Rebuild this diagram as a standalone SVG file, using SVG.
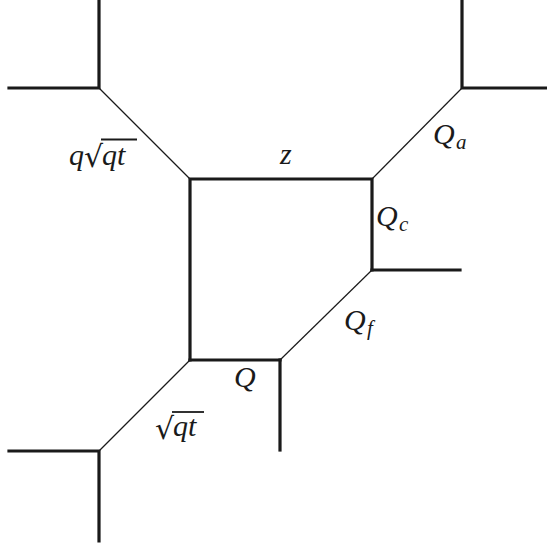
<svg xmlns="http://www.w3.org/2000/svg" width="547" height="547" viewBox="0 0 547 547">
<style>
.thick{stroke:#1a1a1a;stroke-width:3.2;fill:none;stroke-linecap:square}
.thin{stroke:#1a1a1a;stroke-width:1.2;fill:none}
.lbl{font-family:"Liberation Serif",serif;font-style:italic;font-size:30px;fill:#1a1a1a}
.sub{font-family:"Liberation Serif",serif;font-style:italic;font-size:21px;fill:#1a1a1a}
.rad{font-family:"DejaVu Serif",serif;font-size:30px;fill:#1a1a1a}
</style>
<rect width="547" height="547" fill="#fff"/>
<g id="connectors">
<path class="thin" d="M99,88 L190,179"/>
<path class="thin" d="M372,179 L462,88"/>
<path class="thin" d="M372,270 L280,360"/>
<path class="thin" d="M190,360 L99,451"/>
</g>
<g id="node-top-left">
<path class="thick" d="M99,0 L99,88 L9,88"/>
</g>
<g id="node-top-right">
<path class="thick" d="M462,0 L462,88 L547,88"/>
</g>
<g id="node-square">
<path class="thick" d="M190,360 L190,179 L372,179 L372,270"/>
<path class="thick" d="M190,360 L280,360"/>
</g>
<g id="node-right">
<path class="thick" d="M372,270 L460,270"/>
</g>
<g id="node-bottom">
<path class="thick" d="M280,360 L280,450"/>
</g>
<g id="node-bottom-left">
<path class="thick" d="M99,541 L99,451 L9,451"/>
</g>
<g id="labels">
<text class="lbl" x="69" y="165">q</text>
<text class="rad" x="84" y="167">√</text>
<line x1="101" y1="139.5" x2="137" y2="139.5" stroke="#1a1a1a" stroke-width="1.8"/>
<text class="lbl" x="102" y="165">qt</text>
<text class="lbl" x="280" y="164">z</text>
<text class="lbl" x="376" y="226">Q</text>
<text class="sub" x="399" y="231">c</text>
<text class="lbl" x="433" y="144">Q</text>
<text class="sub" x="456" y="149">a</text>
<text class="lbl" x="344" y="330">Q</text>
<text class="sub" x="367" y="335">f</text>
<text class="lbl" x="234" y="387">Q</text>
<text class="rad" x="155" y="439">√</text>
<line x1="172" y1="412" x2="204" y2="412" stroke="#1a1a1a" stroke-width="1.8"/>
<text class="lbl" x="173" y="436">qt</text>
</g>
</svg>
